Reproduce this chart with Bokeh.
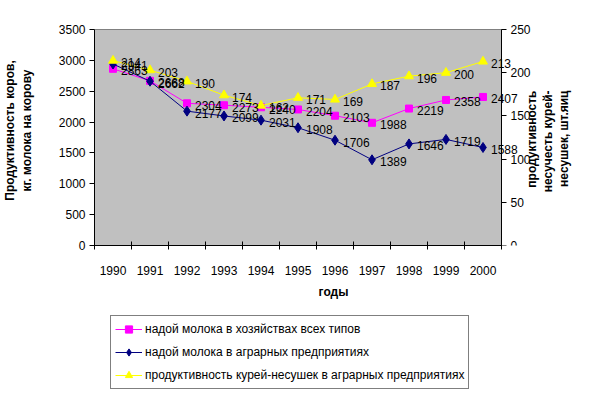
import math
from bokeh.plotting import figure
from bokeh.layouts import column
from bokeh.core.properties import value
from bokeh.models import (Range1d, LinearAxis, FixedTicker, Legend, LegendItem,
                          LabelSet, Label, ColumnDataSource)
from bokeh.embed import file_html
from bokeh.resources import INLINE

years = ["1990", "1991", "1992", "1993", "1994", "1995", "1996", "1997", "1998", "1999", "2000"]
milk_all = [2863, 2668, 2304, 2273, 2240, 2204, 2103, 1988, 2219, 2358, 2407]
milk_agr = [2941, 2662, 2177, 2099, 2031, 1908, 1706, 1389, 1646, 1719, 1588]
hens = [214, 203, 190, 174, 162, 171, 169, 187, 196, 200, 213]
left_ticks = [0, 500, 1000, 1500, 2000, 2500, 3000, 3500]
right_ticks = [0, 50, 100, 150, 200, 250]
series_names = ["надой молока в хозяйствах всех типов",
                "надой молока в аграрных предприятиях",
                "продуктивность курей-несушек в аграрных предприятиях"]
left_title = "Продуктивность коров,\nкг. молока на корову"
right_title = ["продуктивность", "несучесть курей-", "несушек, шт.яиц"]

FONT = "Liberation Sans"
n = len(years)
xs = list(range(n))
X0, X1 = -0.5, n - 0.5            # grey plot-area extent in category units
PX = 37.0                         # px per category
AREA_H = 216                      # grey plot-area height, px
FRAME_W, FRAME_H = 478, 230       # frame also holds the right-hand texts and top tick label
top_left = left_ticks[-1] * FRAME_H / AREA_H
top_right = right_ticks[-1] * FRAME_H / AREA_H

p = figure(output_backend="svg", toolbar_location=None,
           x_range=Range1d(X0, X0 + FRAME_W / PX), y_range=Range1d(0, top_left),
           frame_width=FRAME_W, frame_height=FRAME_H,
           min_border_left=93, min_border_right=0, min_border_top=15, min_border_bottom=0,
           x_axis_location=None, y_axis_location=None)
p.extra_y_ranges = {"right": Range1d(0, top_right)}
p.background_fill_color = "white"
p.border_fill_color = "white"
p.outline_line_color = None
p.xgrid.visible = False
p.ygrid.visible = False

# grey plot area
p.quad(left=[X0], right=[X1], bottom=[left_ticks[0]], top=[left_ticks[-1]],
       fill_color="#C0C0C0", line_color="#808080", line_width=1)

# axes
xaxis = LinearAxis(ticker=FixedTicker(ticks=xs, minor_ticks=[i - 0.5 for i in range(n + 1)]),
                   major_label_overrides={i: y for i, y in enumerate(years)}, bounds=(X0, X1))
xaxis.major_tick_line_color = None
xaxis.major_tick_out = 0
xaxis.major_tick_in = 0
xaxis.minor_tick_in = 4
xaxis.minor_tick_out = 4
xaxis.minor_tick_line_color = "black"
xaxis.axis_line_color = "black"
xaxis.major_label_standoff = 16
xaxis.major_label_text_font = FONT
xaxis.major_label_text_font_size = "12px"
xaxis.major_label_text_color = "black"
xaxis.axis_label = "годы"
xaxis.axis_label_text_font = FONT
xaxis.axis_label_text_font_size = "12px"
xaxis.axis_label_text_font_style = "bold"
xaxis.axis_label_text_color = "black"
xaxis.axis_label_standoff = 7
p.add_layout(xaxis, "below")

def style_y(ax):
    ax.major_tick_in = 0
    ax.major_tick_out = 5
    ax.minor_tick_line_color = None
    ax.axis_line_color = "black"
    ax.major_tick_line_color = "black"
    ax.major_label_text_font = FONT
    ax.major_label_text_font_size = "12px"
    ax.major_label_text_color = "black"
    ax.major_label_standoff = 4
    ax.axis_label_text_font = FONT
    ax.axis_label_text_font_size = "12px"
    ax.axis_label_text_font_style = "bold"
    ax.axis_label_text_color = "black"

yl = LinearAxis(ticker=FixedTicker(ticks=left_ticks), axis_label=left_title,
                bounds=(left_ticks[0], left_ticks[-1]))
style_y(yl)
yl.axis_label_standoff = 22
p.add_layout(yl, "left")

yr = LinearAxis(ticker=FixedTicker(ticks=right_ticks), y_range_name="right", fixed_location=X1,
                bounds=(right_ticks[0], right_ticks[-1]))
style_y(yr)
p.add_layout(yr, "right")

# right-hand axis title (three lines, reading bottom to top)
for i, line in enumerate(right_title):
    p.add_layout(Label(x=X1 + (30 + 16 * i) / PX, y=left_ticks[-1] * 155 / AREA_H,
                       text=line, angle=math.pi / 2, text_align="right", text_baseline="middle",
                       text_font=FONT, text_font_size="12px", text_font_style="bold",
                       text_color="black"))

# series
src = ColumnDataSource(dict(x=xs, a=milk_all, b=milk_agr, h=hens,
                            la=[str(v) for v in milk_all], lb=[str(v) for v in milk_agr],
                            lh=[str(v) for v in hens]))

styles = [dict(color="#FF00FF", marker="square", size=7),
          dict(color="#000080", marker="diamond", size=10),
          dict(color="#FFFF00", marker="triangle", size=9)]
cols = [("a", "la", "default"), ("b", "lb", "default"), ("h", "lh", "right")]

for (ycol, lcol, rng), st in zip(cols, styles):
    p.line("x", ycol, source=src, line_color=st["color"], line_width=1, y_range_name=rng)
    p.scatter("x", ycol, source=src, marker=st["marker"], size=st["size"],
              fill_color=st["color"], line_color=st["color"], y_range_name=rng)
    p.add_layout(LabelSet(x="x", y=ycol, text=lcol, source=src, x_offset=8, y_offset=-2,
                          text_font=value(FONT), text_font_size=value("12px"), text_color="black",
                          text_baseline="middle", text_align="left", y_range_name=rng))

# legend drawn in a strip below the chart (its renderers lie outside that strip's view)
p2 = figure(width=593, height=92, output_backend="svg", toolbar_location=None,
            x_range=Range1d(-1, 0), y_range=Range1d(-1, 0),
            min_border_left=0, min_border_right=0, min_border_top=0, min_border_bottom=0,
            x_axis_location=None, y_axis_location=None)
p2.outline_line_color = None
p2.background_fill_color = "white"
p2.border_fill_color = "white"
p2.xgrid.visible = False
p2.ygrid.visible = False
items = []
for name, (ycol, _, _), st in zip(series_names, cols, styles):
    lr = p2.line("x", ycol, source=src, line_color=st["color"], line_width=1)
    mr = p2.scatter("x", ycol, source=src, marker=st["marker"], size=st["size"],
                    fill_color=st["color"], line_color=st["color"])
    items.append(LegendItem(label=name, renderers=[lr, mr]))

legend = Legend(items=items, location=(16, 4))
legend.label_text_font = FONT
legend.label_text_font_size = "12px"
legend.label_text_color = "black"
legend.glyph_width = 27
legend.glyph_height = 18
legend.label_height = 18
legend.spacing = 5
legend.padding = 4
legend.margin = 0
legend.label_standoff = 3
legend.border_line_color = "black"
legend.border_line_width = 1
legend.background_fill_color = "white"
legend.background_fill_alpha = 1
p2.add_layout(legend, "center")

layout = column(p, p2, spacing=0)
open("out.html", "w").write(file_html(layout, INLINE))
